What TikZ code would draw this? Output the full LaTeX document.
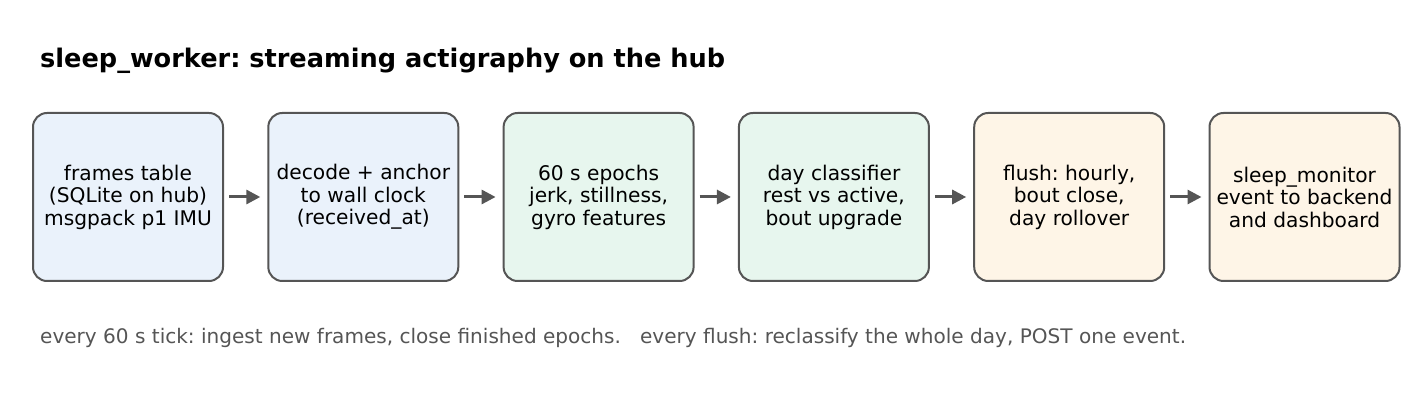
\documentclass[tikz,border=0pt]{standalone}
\usepackage{fontspec}
\setmainfont{DejaVu Sans}
\usetikzlibrary{arrows.meta,positioning}
\definecolor{edgegray}{HTML}{555555}
\definecolor{fillblue}{HTML}{EAF2FB}
\definecolor{fillgreen}{HTML}{E7F6EE}
\definecolor{fillorange}{HTML}{FEF5E7}
\frenchspacing

\begin{document}
\begin{tikzpicture}[x=1pt,y=1pt,
  stage/.style={draw=edgegray,line width=2pt,rounded corners=14pt,
    minimum width=190pt,minimum height=168pt,align=center,inner sep=0pt,
    font=\fontsize{20.2}{22.5}\selectfont},
  arr/.style={-{Triangle[length=14pt,width=14pt]},line width=3pt,color=edgegray,
    shorten <=5pt,shorten >=7pt},
  node distance=43.3pt]
\useasboundingbox (0,0) rectangle (1420,401);
% title
\node[anchor=base west,inner sep=0pt,font=\fontsize{25.6}{30}\selectfont\bfseries] (title) at (40,333)
  {sleep\_worker: streaming actigraphy on the hub};
% pipeline
\node[stage,fill=fillblue] (frames) at (128,204) {frames table\\(SQLite on hub)\\msgpack p1 IMU};
\node[stage,fill=fillblue,right=of frames] (decode) {decode + anchor\\to wall clock\\(received\_at)};
\node[stage,fill=fillgreen,right=of decode] (epochs) {60 s epochs\\jerk, stillness,\\gyro features};
\node[stage,fill=fillgreen,right=of epochs] (classify) {day classifier\\rest vs active,\\bout upgrade};
\node[stage,fill=fillorange,right=of classify] (flush) {flush: hourly,\\bout close,\\day rollover};
\node[stage,fill=fillorange,right=of flush] (monitor) {sleep\_monitor\\event to backend\\and dashboard};
\draw[arr] (frames) -- (decode);
\draw[arr] (decode) -- (epochs);
\draw[arr] (epochs) -- (classify);
\draw[arr] (classify) -- (flush);
\draw[arr] (flush) -- (monitor);
% footer
\node[anchor=base west,inner sep=0pt,text=edgegray,font=\fontsize{20.05}{24}\selectfont] (note) at (40,57)
  {every 60 s tick: ingest new frames, close finished epochs.\ \ \ every flush: reclassify the whole day, POST one event.};
\end{tikzpicture}
\end{document}
